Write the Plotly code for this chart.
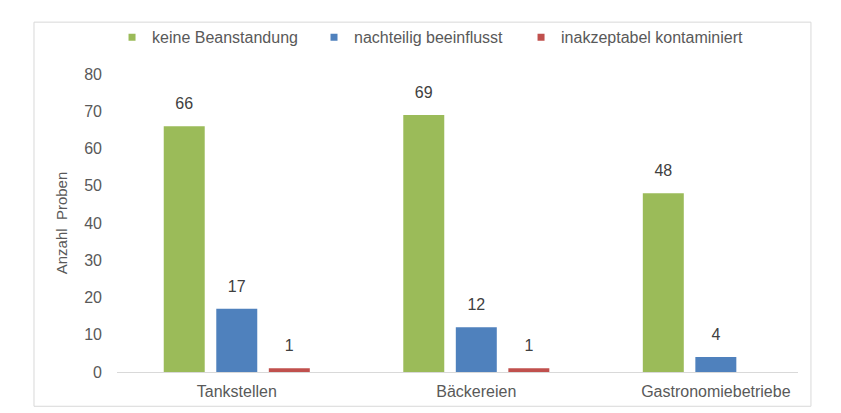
import plotly.graph_objects as go

# data
categories = ['Tankstellen', 'Bäckereien', 'Gastronomiebetriebe']
series_names = ['keine Beanstandung', 'nachteilig beeinflusst', 'inakzeptabel kontaminiert']
keine = [66, 69, 48]
nachteilig = [17, 12, 4]
inakzeptabel = [1, 1, None]
y_ticks = [0, 10, 20, 30, 40, 50, 60, 70, 80]

colors = ['#9BBB59', '#4F81BD', '#C0504D']
legend_ids = ['legend', 'legend2', 'legend3']
legend_x = [-0.0073, 0.2893, 0.5933]
FONT = 'Liberation Sans, Arial, sans-serif'
TEXT = '#595959'
FS = 16
GAP = 0.342

fig = go.Figure()

for i, (name, vals, col) in enumerate(zip(series_names, [keine, nachteilig, inakzeptabel], colors)):
    fig.add_trace(go.Bar(
        x = categories,
        y = vals,
        name = name,
        marker_color = col,
        marker_line_width = 0,
        offsetgroup = str(i),
        showlegend = False,
    ))
    # value labels, grouped like the bars; invisible marker lifts the text
    fig.add_trace(go.Scatter(
        x = categories,
        y = vals,
        mode = 'markers+text',
        text = [v if v is not None else '' for v in vals],
        textposition = 'top center',
        textfont = dict(size = FS, color = '#404040', family = FONT),
        marker = dict(size = 19, opacity = 0),
        offsetgroup = str(i),
        cliponaxis = False,
        hoverinfo = 'skip',
        showlegend = False,
    ))
    # small square swatch, one legend box per series
    fig.add_trace(go.Scatter(
        x = [None], y = [None],
        mode = 'markers',
        name = name,
        marker = dict(symbol = 'square', size = 7, color = col),
        legend = legend_ids[i],
        showlegend = True,
    ))

legend_style = dict(
    orientation = 'h',
    xanchor = 'left',
    y = 1.123, yanchor = 'middle',
    font = dict(size = FS, color = TEXT),
    itemwidth = 30,
    bgcolor = 'rgba(0,0,0,0)',
)

fig.update_layout(
    width = 833,
    height = 405,
    margin = dict(l = 109, r = 43, t = 60, b = 41),
    paper_bgcolor = 'white',
    plot_bgcolor = 'white',
    font = dict(family = FONT, size = FS, color = TEXT),
    barmode = 'group',
    bargap = GAP,
    bargroupgap = 0.22,
    scattermode = 'group',
    scattergap = GAP,
    legend = dict(legend_style, x = legend_x[0]),
    legend2 = dict(legend_style, x = legend_x[1]),
    legend3 = dict(legend_style, x = legend_x[2]),
    xaxis = dict(
        range = [-0.5, 2.343],
        showgrid = False,
        showline = True,
        linecolor = '#D9D9D9',
        linewidth = 1,
        ticks = '',
        ticklabelstandoff = 5,
        tickfont = dict(size = FS, color = TEXT),
    ),
    yaxis = dict(
        range = [0, 80],
        tickvals = y_ticks,
        showgrid = False,
        zeroline = False,
        showline = False,
        ticks = '',
        ticklabelstandoff = 14,
        tickfont = dict(size = FS, color = TEXT),
        title = dict(text = 'Anzahl  Proben', font = dict(size = 15, color = TEXT), standoff = 12),
    ),
    shapes = [dict(
        type = 'rect', xref = 'paper', yref = 'paper',
        x0 = -0.1219, x1 = 1.019, y0 = -0.115, y1 = 1.174,
        line = dict(color = '#D9D9D9', width = 1),
        fillcolor = 'rgba(0,0,0,0)',
        layer = 'below',
    )],
)

fig.write_html('out.html')
